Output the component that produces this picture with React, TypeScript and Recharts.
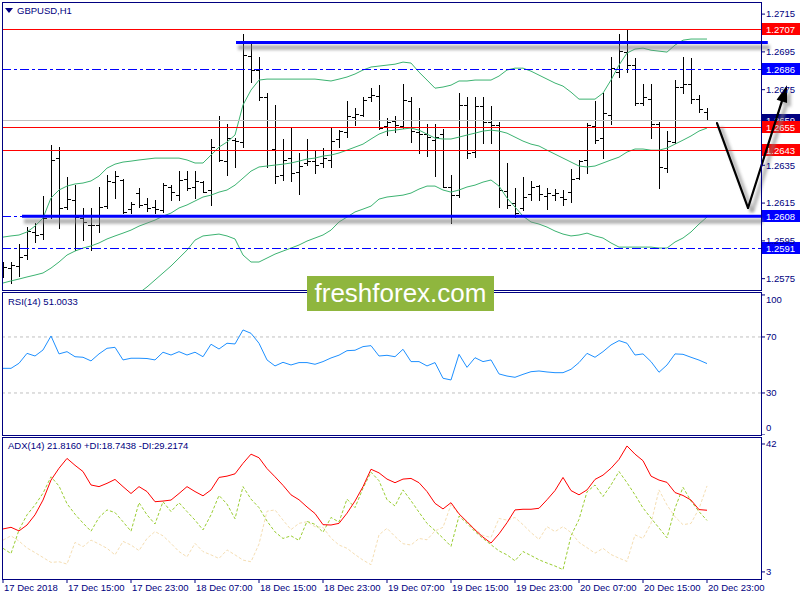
import React from 'react';
import { ComposedChart, Bar, Line, XAxis, YAxis, ReferenceLine } from 'recharts';

// ============================================================
// GBPUSD H1 – MetaTrader-style chart: bars + Bollinger, RSI, ADX
// ============================================================

const NAVY = '#000080';
const FONT = "'Liberation Sans', Arial, sans-serif";
const FS = 9.5;

// ─── Price bars (17 Dec 07:00 → 20 Dec 23:00, hourly) ─────────

const opens = [
    1.25785, 1.25806, 1.25817, 1.25875, 1.25997, 1.25986, 1.26081, 1.26388, 1.26129, 1.26166,
    1.26071, 1.26034, 1.26034, 1.26134, 1.26261, 1.26272, 1.26118, 1.26203, 1.26145, 1.26129,
    1.26113, 1.26235, 1.26193, 1.26277, 1.26235, 1.26261, 1.26219, 1.26431, 1.26372, 1.26483,
    1.26473, 1.26928, 1.26854, 1.26711, 1.26436, 1.26298, 1.26388, 1.26314, 1.26362, 1.26372,
    1.26362, 1.26378, 1.26489, 1.26526, 1.26605, 1.26616, 1.26711, 1.26716, 1.26558, 1.26584,
    1.26558, 1.26690, 1.26526, 1.26515, 1.26483, 1.26515, 1.26235, 1.26193, 1.26669, 1.26420,
    1.26663, 1.26579, 1.26563, 1.26214, 1.26150, 1.26124, 1.26198, 1.26240, 1.26187, 1.26193,
    1.26182, 1.26208, 1.26282, 1.26378, 1.26558, 1.26494, 1.26616, 1.26843, 1.26949, 1.26880,
    1.26679, 1.26700, 1.26568, 1.26335, 1.26473, 1.26764, 1.26780, 1.26700, 1.26632,
];
const highs = [
    1.25838, 1.25838, 1.25933, 1.26023, 1.26044, 1.26187, 1.26457, 1.26446, 1.26288, 1.26245,
    1.26124, 1.26124, 1.26235, 1.26298, 1.26319, 1.26277, 1.26155, 1.26230, 1.26177, 1.26166,
    1.26256, 1.26245, 1.26319, 1.26319, 1.26319, 1.26267, 1.26489, 1.26610, 1.26568, 1.26494,
    1.27044, 1.27002, 1.26923, 1.26732, 1.26669, 1.26489, 1.26552, 1.26415, 1.26489, 1.26431,
    1.26441, 1.26547, 1.26536, 1.26690, 1.26653, 1.26711, 1.26759, 1.26774, 1.26600, 1.26610,
    1.26780, 1.26711, 1.26653, 1.26568, 1.26568, 1.26542, 1.26298, 1.26732, 1.26711, 1.26711,
    1.26711, 1.26663, 1.26579, 1.26362, 1.26230, 1.26288, 1.26267, 1.26245, 1.26230, 1.26224,
    1.26219, 1.26330, 1.26378, 1.26573, 1.26690, 1.26732, 1.26923, 1.27044, 1.27065, 1.26917,
    1.26780, 1.26780, 1.26579, 1.26531, 1.26801, 1.26923, 1.26917, 1.26722, 1.26653,
];
const lows = [
    1.25759, 1.25727, 1.25764, 1.25854, 1.25944, 1.25960, 1.26071, 1.26018, 1.26118, 1.25902,
    1.25954, 1.25902, 1.25997, 1.26124, 1.26177, 1.26097, 1.26097, 1.26129, 1.26108, 1.26097,
    1.26103, 1.26166, 1.26166, 1.26219, 1.26177, 1.26208, 1.26140, 1.26372, 1.26298, 1.26341,
    1.26446, 1.26790, 1.26695, 1.26341, 1.26256, 1.26272, 1.26267, 1.26198, 1.26351, 1.26309,
    1.26341, 1.26341, 1.26446, 1.26499, 1.26563, 1.26610, 1.26690, 1.26542, 1.26510, 1.26526,
    1.26547, 1.26473, 1.26415, 1.26399, 1.26293, 1.26235, 1.26044, 1.26182, 1.26388, 1.26394,
    1.26468, 1.26468, 1.26129, 1.26124, 1.26076, 1.26113, 1.26166, 1.26166, 1.26118, 1.26166,
    1.26140, 1.26155, 1.26277, 1.26309, 1.26468, 1.26388, 1.26568, 1.26817, 1.26843, 1.26669,
    1.26669, 1.26494, 1.26230, 1.26314, 1.26468, 1.26732, 1.26679, 1.26632, 1.26589,
];
const closes = [
    1.25812, 1.25822, 1.25865, 1.26002, 1.25981, 1.26071, 1.26378, 1.26124, 1.26171, 1.26076,
    1.26050, 1.26034, 1.26129, 1.26267, 1.26293, 1.26103, 1.26145, 1.26140, 1.26124, 1.26118,
    1.26245, 1.26208, 1.26272, 1.26230, 1.26267, 1.26208, 1.26446, 1.26378, 1.26494, 1.26478,
    1.26933, 1.26854, 1.26711, 1.26431, 1.26293, 1.26378, 1.26309, 1.26346, 1.26372, 1.26351,
    1.26388, 1.26478, 1.26531, 1.26610, 1.26621, 1.26695, 1.26722, 1.26547, 1.26579, 1.26563,
    1.26695, 1.26531, 1.26515, 1.26499, 1.26499, 1.26235, 1.26193, 1.26669, 1.26415, 1.26663,
    1.26579, 1.26563, 1.26219, 1.26140, 1.26097, 1.26182, 1.26235, 1.26198, 1.26203, 1.26203,
    1.26171, 1.26277, 1.26372, 1.26563, 1.26483, 1.26626, 1.26864, 1.26954, 1.26880, 1.26679,
    1.26711, 1.26568, 1.26341, 1.26478, 1.26764, 1.26780, 1.26700, 1.26647, 1.26589,
];

// ─── Bollinger Bands (20) ─────────────────────────────────────

const bbUpper = [
    1.25970, 1.25976, 1.25981, 1.25997, 1.26028, 1.26071, 1.26177, 1.26219, 1.26240, 1.26251,
    1.26256, 1.26267, 1.26293, 1.26335, 1.26356, 1.26367, 1.26372, 1.26378, 1.26383, 1.26388,
    1.26388, 1.26388, 1.26388, 1.26378, 1.26362, 1.26362, 1.26404, 1.26446, 1.26473, 1.26510,
    1.26669, 1.26748, 1.26801, 1.26806, 1.26806, 1.26806, 1.26806, 1.26806, 1.26806, 1.26806,
    1.26801, 1.26796, 1.26806, 1.26817, 1.26833, 1.26854, 1.26870, 1.26875, 1.26880, 1.26885,
    1.26896, 1.26891, 1.26843, 1.26801, 1.26758, 1.26764, 1.26774, 1.26796, 1.26796, 1.26801,
    1.26801, 1.26801, 1.26822, 1.26854, 1.26864, 1.26864, 1.26848, 1.26827, 1.26806, 1.26785,
    1.26769, 1.26737, 1.26700, 1.26700, 1.26700, 1.26732, 1.26801, 1.26880, 1.26944, 1.26965,
    1.26970, 1.26959, 1.26954, 1.26949, 1.26986, 1.27012, 1.27018, 1.27018, 1.27018,
];
const bbMiddle = [
    1.25727, 1.25738, 1.25748, 1.25759, 1.25769, 1.25780, 1.25806, 1.25838, 1.25875, 1.25896,
    1.25912, 1.25923, 1.25939, 1.25960, 1.25976, 1.25991, 1.26007, 1.26028, 1.26044, 1.26060,
    1.26081, 1.26097, 1.26124, 1.26140, 1.26161, 1.26182, 1.26192, 1.26208, 1.26219, 1.26245,
    1.26282, 1.26319, 1.26341, 1.26346, 1.26351, 1.26356, 1.26362, 1.26372, 1.26383, 1.26388,
    1.26399, 1.26404, 1.26415, 1.26430, 1.26446, 1.26462, 1.26489, 1.26515, 1.26531, 1.26536,
    1.26542, 1.26547, 1.26536, 1.26515, 1.26494, 1.26489, 1.26489, 1.26499, 1.26510, 1.26520,
    1.26531, 1.26536, 1.26531, 1.26520, 1.26499, 1.26478, 1.26462, 1.26452, 1.26430, 1.26409,
    1.26388, 1.26367, 1.26346, 1.26341, 1.26346, 1.26362, 1.26378, 1.26393, 1.26420, 1.26436,
    1.26436, 1.26430, 1.26430, 1.26441, 1.26462, 1.26483, 1.26505, 1.26531, 1.26547,
];
const bbLower = [
    1.25484, 1.25499, 1.25515, 1.25521, 1.25510, 1.25489, 1.25436, 1.25457, 1.25510, 1.25542,
    1.25568, 1.25579, 1.25584, 1.25584, 1.25595, 1.25616, 1.25642, 1.25674, 1.25706, 1.25743,
    1.25780, 1.25817, 1.25859, 1.25901, 1.25954, 1.25976, 1.25981, 1.25986, 1.25976, 1.25960,
    1.25875, 1.25838, 1.25838, 1.25859, 1.25880, 1.25896, 1.25912, 1.25928, 1.25949, 1.25965,
    1.25981, 1.26007, 1.26050, 1.26076, 1.26103, 1.26118, 1.26134, 1.26171, 1.26182, 1.26187,
    1.26192, 1.26203, 1.26224, 1.26240, 1.26240, 1.26219, 1.26208, 1.26219, 1.26235, 1.26245,
    1.26261, 1.26272, 1.26240, 1.26177, 1.26129, 1.26081, 1.26050, 1.26039, 1.26023, 1.26002,
    1.25986, 1.25976, 1.25981, 1.25991, 1.25976, 1.25965, 1.25939, 1.25917, 1.25917, 1.25917,
    1.25917, 1.25917, 1.25912, 1.25912, 1.25944, 1.25965, 1.25997, 1.26039, 1.26076,
];

// ─── RSI(14) ──────────────────────────────────────────────────

const rsi = [
    47.6, 47.6, 51.2, 58.3, 56.4, 60.7, 70.7, 57.9, 59.5, 55.9,
    55.5, 52.9, 57.9, 61.9, 62.6, 53.6, 54.8, 54.8, 54.6, 53.6,
    59.1, 57.1, 59.5, 57.1, 59.1, 55.9, 64.8, 61.4, 65.5, 65.0,
    75.0, 72.6, 65.5, 53.6, 49.3, 51.9, 50.0, 51.7, 51.7, 50.5,
    52.4, 55.0, 57.0, 60.2, 60.5, 63.1, 63.8, 56.4, 56.9, 55.9,
    61.2, 52.4, 52.4, 49.3, 51.7, 40.5, 39.3, 57.6, 48.3, 55.2,
    52.4, 53.6, 43.6, 42.1, 41.2, 43.3, 45.2, 45.7, 45.0, 44.5,
    44.5, 46.9, 51.7, 58.3, 55.5, 59.5, 64.3, 67.4, 65.5, 57.1,
    57.9, 52.4, 44.8, 50.0, 57.9, 57.6, 55.5, 53.5, 51.0,
];

// ─── ADX(14) with +DI / -DI ───────────────────────────────────

const adx = [
    16.1, 16.6, 15.5, 17.3, 20.4, 24.9, 31.0, 34.6, 37.6, 35.5,
    33.6, 29.5, 29.0, 30.0, 31.2, 29.0, 26.9, 29.0, 27.5, 24.4,
    24.6, 24.9, 26.9, 29.0, 27.5, 26.2, 28.0, 31.8, 32.2, 32.9,
    36.1, 38.9, 37.8, 34.5, 32.0, 29.4, 26.5, 25.0, 22.8, 20.8,
    17.4, 17.3, 17.8, 20.9, 24.6, 29.0, 34.3, 33.2, 31.3, 30.2,
    31.3, 31.5, 30.2, 27.5, 23.9, 22.2, 24.1, 20.7, 18.3, 15.8,
    13.6, 11.8, 14.6, 18.0, 21.9, 22.1, 22.1, 22.4, 25.0, 27.8,
    31.8, 27.8, 26.5, 28.0, 31.2, 32.5, 34.6, 37.3, 41.4, 38.9,
    36.9, 32.2, 31.0, 30.3, 27.2, 26.3, 24.9, 22.0, 21.8,
];
const plusDI = [
    10.2, 8.6, 15.8, 20.4, 23.4, 27.0, 32.0, 29.2, 23.8, 20.6,
    17.9, 15.4, 19.6, 21.9, 21.1, 18.3, 15.4, 24.1, 20.4, 17.6,
    24.4, 21.4, 24.1, 21.4, 18.8, 15.8, 20.4, 26.3, 23.7, 19.2,
    29.0, 25.2, 22.6, 18.5, 15.2, 13.2, 14.0, 12.6, 18.4, 17.5,
    15.1, 19.6, 18.2, 25.2, 22.6, 28.5, 33.4, 30.8, 25.0, 23.1,
    28.0, 24.7, 21.2, 17.8, 15.6, 13.3, 10.8, 20.0, 17.8, 15.3,
    13.2, 11.3, 9.4, 8.2, 6.4, 9.2, 8.0, 6.7, 5.7, 4.8,
    3.7, 14.0, 19.0, 27.4, 29.5, 26.0, 29.5, 33.6, 30.2, 26.5,
    22.5, 19.4, 16.4, 13.4, 22.4, 28.8, 24.6, 21.4, 18.7,
];
const minusDI = [
    12.7, 14.0, 12.4, 10.3, 8.9, 7.4, 5.9, 6.1, 5.4, 12.0,
    10.7, 12.7, 11.5, 10.2, 8.2, 12.3, 11.2, 9.5, 13.2, 15.3,
    14.0, 11.7, 9.2, 7.6, 11.7, 9.2, 8.2, 7.1, 9.7, 8.2,
    6.6, 6.1, 11.5, 21.5, 21.9, 18.8, 15.9, 17.8, 18.3, 16.8,
    16.6, 13.3, 11.2, 10.2, 8.3, 6.6, 5.2, 14.3, 16.3, 13.8,
    11.6, 11.2, 13.2, 12.8, 15.5, 16.6, 23.5, 20.5, 18.3, 16.0,
    14.1, 13.5, 19.3, 18.8, 19.6, 17.4, 15.0, 12.9, 16.8, 15.3,
    16.8, 15.0, 12.0, 10.4, 8.7, 10.2, 8.3, 7.2, 6.2, 14.3,
    13.2, 17.8, 28.0, 23.4, 19.8, 17.4, 17.8, 22.3, 29.2,
];

// ─── Axis ticks ───────────────────────────────────────────────

const timeTicks = [0, 8, 16, 24, 32, 40, 48, 56, 64, 72, 80, 88];
const timeLabels = [
    '17 Dec 2018', '17 Dec 15:00', '17 Dec 23:00', '18 Dec 07:00', '18 Dec 15:00', '18 Dec 23:00',
    '19 Dec 07:00', '19 Dec 15:00', '19 Dec 23:00', '20 Dec 07:00', '20 Dec 15:00', '20 Dec 23:00',
];
const priceTicks = [1.2575, 1.2595, 1.2615, 1.2635, 1.2675, 1.2695, 1.2715];
const rsiTicks = [0, 30, 70, 100];
const adxTicks = [3, 42];

// ─── Chart objects (levels, trend lines, arrow) ──────────────

const redLevels = [1.2707, 1.2655, 1.2643];
const blueLevels = [1.2686, 1.2608, 1.2591];
const bidPrice = 1.2659;
const trendLines = [
    { from: 29.125, to: 95.6, price: 1.27 },
    { from: 2.375, to: 94.75, price: 1.2608 },
];
const arrowPath = [
    { x: 89.25, y: 1.26573 },
    { x: 93.125, y: 1.26124 },
    { x: 98, y: 1.26774 },
];

const X_DOMAIN: [number, number] = [-0.125, 94.75];

const rows = opens.map((open, i) => ({
    i,
    open,
    high: highs[i],
    low: lows[i],
    close: closes[i],
    range: [lows[i], highs[i]],
    upper: bbUpper[i],
    mid: bbMiddle[i],
    lower: bbLower[i],
    rsi: rsi[i],
    adx: adx[i],
    pdi: plusDI[i],
    mdi: minusDI[i],
}));

// ─── Shapes ───────────────────────────────────────────────────

// eslint-disable-next-line @typescript-eslint/no-explicit-any
const OhlcBar = (props: any) => {
    const { x, y, width, height, payload } = props;
    if (x == null || y == null) return null;
    const cx = Math.round(x + width / 2);
    const span = payload.high - payload.low;
    const at = (v: number) => Math.round(span > 0 ? y + ((payload.high - v) / span) * height : y);
    const top = Math.round(y);
    const bot = Math.round(y + height);
    const yo = at(payload.open);
    const yc = at(payload.close);
    return (
        <g fill="#000">
            <rect x={cx} y={top} width={1} height={Math.max(bot - top + 1, 1)} />
            <rect x={cx - 3} y={yo} width={3} height={1} />
            <rect x={cx + 1} y={yc} width={3} height={1} />
        </g>
    );
};

const priceTag = (x: number, y: number, text: string, bg: string) => (
    <g>
        <rect x={x + 1} y={y - 6.5} width={39} height={12} fill={bg} />
        <text x={x + 5} y={y} dy="0.35em" fill="#fff" fontSize={FS} fontFamily={FONT}>{text}</text>
    </g>
);

const levelShape = (color: string, dash: string | undefined, bg: string, label: string) =>
    // eslint-disable-next-line @typescript-eslint/no-explicit-any
    (p: any) => {
        const y = Math.round(p.y1) + 0.5;
        const left = Math.min(p.x1, p.x2);
        const right = Math.max(p.x1, p.x2);
        return (
            <g>
                <line x1={left} x2={right} y1={y} y2={y} stroke={color} strokeDasharray={dash} />
                {priceTag(right, y, label, bg)}
            </g>
        );
    };

const shadowDefs = (
    <defs>
        <filter id="objShadow" filterUnits="userSpaceOnUse" x={0} y={0} width={800} height={300}>
            <feGaussianBlur stdDeviation={1.8} />
        </filter>
    </defs>
);

// eslint-disable-next-line @typescript-eslint/no-explicit-any
const ThickLine = (p: any) => (
    <g>
        {shadowDefs}
        <line x1={p.x1 + 2} y1={p.y1 + 5} x2={p.x2 + 2} y2={p.y2 + 5} stroke="#808080" strokeWidth={5} opacity={0.6} filter="url(#objShadow)" />
        <line x1={p.x1} y1={p.y1} x2={p.x2} y2={p.y2} stroke="#0000FF" strokeWidth={3} />
    </g>
);

const arrowShape = (head: boolean) =>
    // eslint-disable-next-line @typescript-eslint/no-explicit-any
    (p: any) => {
        const { x1, y1, x2, y2 } = p;
        const len = Math.hypot(x2 - x1, y2 - y1) || 1;
        const ux = (x2 - x1) / len;
        const uy = (y2 - y1) / len;
        const hl = 17;
        const hw = 5.5;
        const bx = x2 - ux * hl;
        const by = y2 - uy * hl;
        const pts = `${x2},${y2} ${bx - uy * hw},${by + ux * hw} ${bx + uy * hw},${by - ux * hw}`;
        const ex = head ? bx : x2;
        const ey = head ? by : y2;
        return (
            <g>
                {shadowDefs}
                <g opacity={0.55} filter="url(#objShadow)">
                    <line x1={x1 + 4} y1={y1 + 4} x2={ex + 4} y2={ey + 4} stroke="#808080" strokeWidth={4} />
                    {head && <polygon points={pts} fill="#808080" transform="translate(4,4)" />}
                </g>
                <line x1={x1} y1={y1} x2={ex} y2={ey} stroke="#000" strokeWidth={2.2} strokeLinecap="round" />
                {head && <polygon points={pts} fill="#000" />}
            </g>
        );
    };

// eslint-disable-next-line @typescript-eslint/no-explicit-any
const RsiTick = ({ x, y, payload }: any) => {
    const v = payload.value;
    const dy = v === 100 ? 5 : v === 0 ? -7 : 0;
    return (
        <text x={x} y={y + dy} dy="0.35em" fill={NAVY} fontSize={FS} fontFamily={FONT} textAnchor="start">{v}</text>
    );
};

// eslint-disable-next-line @typescript-eslint/no-explicit-any
const TimeTick = ({ x, y, payload }: any) => (
    <text x={x + 1} y={y} dy="0.75em" fill={NAVY} fontSize={FS} fontFamily={FONT} textAnchor="start">
        {timeLabels[timeTicks.indexOf(payload.value)]}
    </text>
);

const AXIS_TEXT = { fill: NAVY, fontSize: FS, fontFamily: FONT };

const paneBox = (top: number, height: number) => ({
    position: 'absolute' as const,
    left: 2,
    top,
    width: 760,
    height,
    border: `1px solid ${NAVY}`,
    boxSizing: 'border-box' as const,
    pointerEvents: 'none' as const,
});

const caption = (top: number) => ({
    position: 'absolute' as const,
    left: 8,
    top,
    color: NAVY,
    fontSize: FS,
    fontFamily: FONT,
    whiteSpace: 'nowrap' as const,
    lineHeight: '12px',
});

export default function App() {
    return (
        <div style={{ position: 'absolute', left: 0, top: 0, width: 800, height: 600, background: '#fff', overflow: 'hidden' }}>
            {/* ── Price pane ── */}
            <div style={{ position: 'absolute', left: 0, top: 0 }}>
                <ComposedChart width={800} height={292} data={rows} margin={{ top: 2, right: 0, bottom: 2, left: 2 }}>
                    <XAxis type="number" dataKey="i" domain={X_DOMAIN} allowDataOverflow hide />
                    <YAxis
                        orientation="right"
                        width={39}
                        domain={[1.2569, 1.27214]}
                        allowDataOverflow
                        ticks={priceTicks}
                        interval={0}
                        tickFormatter={(v: number) => v.toFixed(4)}
                        tick={AXIS_TEXT}
                        tickSize={4}
                        tickMargin={1}
                        tickLine={{ stroke: NAVY }}
                        axisLine={false}
                    />
                    <Line dataKey="upper" stroke="#3CB371" strokeWidth={1} dot={false} isAnimationActive={false} />
                    <Line dataKey="mid" stroke="#3CB371" strokeWidth={1} dot={false} isAnimationActive={false} />
                    <Line dataKey="lower" stroke="#3CB371" strokeWidth={1} dot={false} isAnimationActive={false} />
                    <Bar dataKey="range" barSize={6} shape={<OhlcBar />} isAnimationActive={false} />

                    <ReferenceLine y={bidPrice} shape={levelShape('#C0C0C0', undefined, NAVY, bidPrice.toFixed(4))} />
                    {blueLevels.map((v) => (
                        <ReferenceLine key={`b${v}`} y={v} shape={levelShape('#0000FF', '9 3 3 3', '#0000FF', v.toFixed(4))} />
                    ))}
                    {redLevels.map((v) => (
                        <ReferenceLine key={`r${v}`} y={v} shape={levelShape('#FF0000', undefined, '#FF0000', v.toFixed(4))} />
                    ))}
                    {trendLines.map((t) => (
                        <ReferenceLine
                            key={`t${t.price}`}
                            ifOverflow="visible"
                            segment={[{ x: t.from, y: t.price }, { x: t.to, y: t.price }]}
                            shape={ThickLine}
                        />
                    ))}
                    {arrowPath.slice(1).map((pt, n) => (
                        <ReferenceLine
                            key={`a${n}`}
                            ifOverflow="visible"
                            segment={[arrowPath[n], pt]}
                            shape={arrowShape(n === arrowPath.length - 2)}
                        />
                    ))}
                </ComposedChart>
            </div>

            {/* ── RSI pane ── */}
            <div style={{ position: 'absolute', left: 0, top: 292 }}>
                <ComposedChart width={800} height={143} data={rows} margin={{ top: 0, right: 0, bottom: 0, left: 2 }}>
                    <XAxis type="number" dataKey="i" domain={X_DOMAIN} allowDataOverflow hide />
                    <YAxis
                        orientation="right"
                        width={39}
                        domain={[0, 102.1]}
                        allowDataOverflow
                        ticks={rsiTicks}
                        interval={0}
                        tick={<RsiTick />}
                        tickSize={4}
                        tickMargin={1}
                        tickLine={{ stroke: NAVY }}
                        axisLine={false}
                    />
                    <ReferenceLine y={70} stroke="#C0C0C0" strokeDasharray="3 3" />
                    <ReferenceLine y={30} stroke="#C0C0C0" strokeDasharray="3 3" />
                    <Line dataKey="rsi" stroke="#1E90FF" strokeWidth={1} dot={false} isAnimationActive={false} />
                </ComposedChart>
            </div>

            {/* ── ADX pane ── */}
            <div style={{ position: 'absolute', left: 0, top: 437 }}>
                <ComposedChart width={800} height={163} data={rows} margin={{ top: 0, right: 0, bottom: 0, left: 2 }}>
                    <XAxis
                        type="number"
                        dataKey="i"
                        domain={X_DOMAIN}
                        allowDataOverflow
                        ticks={timeTicks}
                        interval={0}
                        height={21}
                        tick={<TimeTick />}
                        tickSize={4}
                        tickMargin={1}
                        tickLine={{ stroke: NAVY }}
                        axisLine={false}
                    />
                    <YAxis
                        orientation="right"
                        width={39}
                        domain={[0.84, 44.13]}
                        allowDataOverflow
                        ticks={adxTicks}
                        interval={0}
                        tick={AXIS_TEXT}
                        tickSize={4}
                        tickMargin={1}
                        tickLine={{ stroke: NAVY }}
                        axisLine={false}
                    />
                    <Line dataKey="mdi" stroke="#F5DEB3" strokeWidth={1} strokeDasharray="3 2" dot={false} isAnimationActive={false} />
                    <Line dataKey="pdi" stroke="#9ACD32" strokeWidth={1} strokeDasharray="3 2" dot={false} isAnimationActive={false} />
                    <Line dataKey="adx" stroke="#FF0000" strokeWidth={1} dot={false} isAnimationActive={false} />
                </ComposedChart>
            </div>

            {/* ── Pane frames and captions ── */}
            <div style={paneBox(2, 289)} />
            <div style={paneBox(292, 144)} />
            <div style={paneBox(437, 143)} />

            <svg width={8} height={6} style={{ position: 'absolute', left: 5, top: 8 }}>
                <polygon points="0,0 8,0 4,5" fill={NAVY} />
            </svg>
            <div style={{ ...caption(5), left: 17 }}>GBPUSD,H1</div>
            <div style={caption(296)}>RSI(14) 51.0033</div>
            <div style={caption(440)}>ADX(14) 21.8160 +DI:18.7438 -DI:29.2174</div>

            {/* ── Watermark ── */}
            <div
                style={{
                    position: 'absolute',
                    left: 307,
                    top: 276,
                    width: 187,
                    height: 35,
                    background: '#8fb63e',
                    color: '#fff',
                    fontFamily: FONT,
                    fontSize: 26,
                    lineHeight: '35px',
                    textAlign: 'center',
                }}
            >
                freshforex.com
            </div>
        </div>
    );
}
